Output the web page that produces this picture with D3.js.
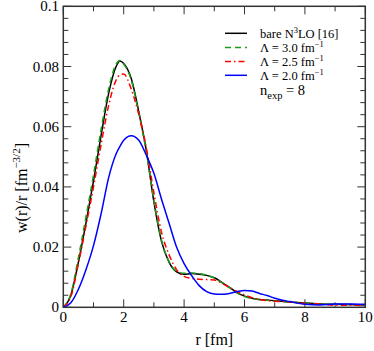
<!DOCTYPE html>
<html><head><meta charset="utf-8">
<script src="https://cdn.jsdelivr.net/npm/d3@7"></script>
<style>
html,body{margin:0;padding:0;background:#fff;}
svg{display:block;}
text{font-family:'Liberation Serif','DejaVu Serif',serif;}
</style></head>
<body><svg id="c" width="374" height="351"></svg>
<script>
const rGrid = [0,0.25,0.5,0.75,1.0,1.25,1.5,1.75,1.875,2.0,2.25,2.5,2.75,3.0,3.25,3.5,3.75,4.0,4.25,4.5,4.75,5.0,5.25,5.5,5.75,6.0,6.25,6.5,6.75,7.0,7.5,8.0,8.5,9.0,9.5,10.0];
const bareN3LO = [0,0.004,0.015,0.028,0.042,0.057,0.071,0.0800,0.0818,0.081,0.076,0.065,0.052,0.035,0.022,0.015,0.0118,0.011,0.0112,0.011,0.0106,0.0098,0.0083,0.0066,0.0049,0.0037,0.003,0.0026,0.0024,0.0022,0.0018,0.0014,0.0011,0.001,0.0009,0.0008];
const lambda30 = [0,0.0045,0.0165,0.030,0.0440,0.0590,0.0725,0.0808,0.0820,0.0808,0.0755,0.0645,0.0515,0.0355,0.0225,0.0152,0.0120,0.0113,0.0114,0.0112,0.0107,0.0097,0.0082,0.0065,0.0048,0.0036,0.0029,0.0025,0.0023,0.0021,0.0017,0.0014,0.0011,0.001,0.0009,0.0008];
const lambda25 = [0,0.0035,0.0145,0.027,0.040,0.054,0.067,0.0755,0.0772,0.0775,0.0725,0.064,0.053,0.038,0.025,0.0175,0.0125,0.0103,0.0096,0.0093,0.0092,0.0091,0.0080,0.0066,0.0053,0.0041,0.0032,0.0025,0.0022,0.0020,0.0018,0.0013,0.0011,0.0007,0.0007,0.0008];
const lambda20 = [0,0.0015,0.006,0.0125,0.0205,0.031,0.043,0.051,0.0535,0.0555,0.057,0.0555,0.0505,0.0445,0.036,0.028,0.020,0.0145,0.0105,0.0072,0.0052,0.0044,0.0043,0.0046,0.0052,0.0056,0.0054,0.0046,0.0039,0.0030,0.0019,0.0010,0.0008,0.0011,0.0011,0.0010];
const xTicks = [0,2,4,6,8,10];
const yTicks = [0,0.02,0.04,0.06,0.08,0.1];
const yTickLabels = ["0","0.02","0.04","0.06","0.08","0.1"];

const series = [
  {name:"bare", values:bareN3LO, color:"#000000", dash:null},
  {name:"l30", values:lambda30, color:"#1a9e1a", dash:"6,4"},
  {name:"l25", values:lambda25, color:"#ff0000", dash:"6,3,1.5,3"},
  {name:"l20", values:lambda20, color:"#0000ff", dash:null}
];
const FF = "'Liberation Serif','DejaVu Serif',serif";

const svg = d3.select("#c");
const L=63.3, R=365.3, T=6.3, B=307.3;
const x = d3.scaleLinear().domain([0,10]).range([L,R]);
const y = d3.scaleLinear().domain([0,0.1]).range([B,T]);

const g = svg.append("g").attr("stroke","#333").attr("stroke-width",1);
d3.range(0,10.01,1).forEach(v=>{
  const major = Math.abs(v%2)<1e-9;
  const len = major?8:5;
  g.append("line").attr("x1",x(v)).attr("x2",x(v)).attr("y1",B).attr("y2",B-len);
  g.append("line").attr("x1",x(v)).attr("x2",x(v)).attr("y1",T).attr("y2",T+len);
});
d3.range(0,26).forEach(i=>{
  const v=i*0.004;
  const major = i%5===0;
  const len = major?8:5;
  g.append("line").attr("y1",y(v)).attr("y2",y(v)).attr("x1",L).attr("x2",L+len);
  g.append("line").attr("y1",y(v)).attr("y2",y(v)).attr("x1",R).attr("x2",R-len);
});

svg.append("clipPath").attr("id","cp").append("rect").attr("x",L).attr("y",T).attr("width",R-L).attr("height",B-T);
const line = d3.line().x((d,i)=>x(rGrid[i])).y(d=>y(d)).curve(d3.curveMonotoneX);
series.forEach(s=>{
  svg.append("path").attr("d",line(s.values)).attr("fill","none")
    .attr("stroke",s.color).attr("stroke-width",1.5)
    .attr("stroke-dasharray",s.dash).attr("clip-path","url(#cp)");
});

svg.append("rect").attr("x",L).attr("y",T).attr("width",R-L).attr("height",B-T)
  .attr("fill","none").attr("stroke","#333").attr("stroke-width",1.5);

xTicks.forEach(v=>{
  svg.append("text").attr("x",x(v)).attr("y",322).attr("text-anchor","middle")
    .attr("font-family",FF).attr("font-size",15).text(v);
});
yTicks.forEach((v,i)=>{
  svg.append("text").attr("x",59).attr("y",y(v)+5).attr("text-anchor","end")
    .attr("font-family",FF).attr("font-size",15).text(yTickLabels[i]);
});

svg.append("text").attr("x",x(5)).attr("y",345).attr("text-anchor","middle")
  .attr("font-family",FF).attr("font-size",16).text("r [fm]");
const yl = svg.append("text").attr("transform","translate(27,188) rotate(-90)")
  .attr("text-anchor","middle").attr("font-family",FF).attr("font-size",16);
yl.append("tspan").text("w(r)/r [fm");
yl.append("tspan").attr("dy",-7).attr("font-size",11).text("\u22123/2");
yl.append("tspan").attr("dy",7).text("]");

const legY=[33.3,47.5,61.5,75.3];
const legParts=[
  [["bare N",0],["3",1],["LO [16]",0]],
  [["\u039b = 3.0 fm",0],["\u22121",1]],
  [["\u039b = 2.5 fm",0],["\u22121",1]],
  [["\u039b = 2.0 fm",0],["\u22121",1]]
];
series.forEach((s,i)=>{
  svg.append("line").attr("x1",225).attr("x2",247).attr("y1",legY[i]).attr("y2",legY[i])
    .attr("stroke",s.color).attr("stroke-width",1.5).attr("stroke-dasharray",s.dash);
  const t = svg.append("text").attr("x",260).attr("y",legY[i]+4.5)
    .attr("font-family",FF).attr("font-size",12.5);
  let up=false;
  legParts[i].forEach(([txt,sup])=>{
    const ts=t.append("tspan").text(txt);
    if(sup){ts.attr("dy",-5).attr("font-size",8.5);up=true;}
    else if(up){ts.attr("dy",5);up=false;}
  });
});
const nt = svg.append("text").attr("x",260).attr("y",95).attr("font-family",FF).attr("font-size",14.5);
nt.append("tspan").text("n");
nt.append("tspan").attr("dy",4).attr("font-size",10.5).text("exp");
nt.append("tspan").attr("dy",-4).text(" = 8");
</script></body></html>
